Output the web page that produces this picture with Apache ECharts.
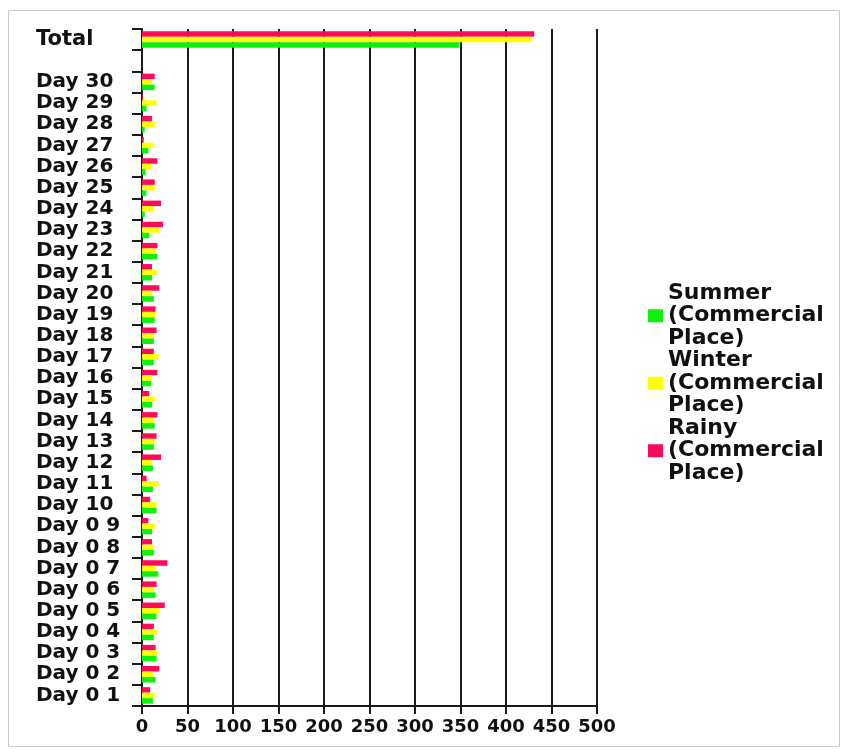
<!DOCTYPE html>
<html>
<head>
<meta charset="utf-8">
<title>Commercial Place by Season</title>
<script src="https://cdn.jsdelivr.net/npm/echarts@6/dist/echarts.min.js"></script>
<style>
  html, body { margin: 0; padding: 0; background: #fff; }
  #chart { width: 847px; height: 753px; }
</style>
</head>
<body>
<div id="chart"></div>
<script>
// Day labels, bottom to top
const dayLabels = [
  'Day 0 1', 'Day 0 2', 'Day 0 3', 'Day 0 4', 'Day 0 5', 'Day 0 6', 'Day 0 7', 'Day 0 8', 'Day 0 9',
  'Day 10', 'Day 11', 'Day 12', 'Day 13', 'Day 14', 'Day 15', 'Day 16', 'Day 17', 'Day 18', 'Day 19',
  'Day 20', 'Day 21', 'Day 22', 'Day 23', 'Day 24', 'Day 25', 'Day 26', 'Day 27', 'Day 28', 'Day 29', 'Day 30'
];
const totalLabel = 'Total';

const seriesNames = ['Summer (Commercial Place)', 'Winter (Commercial Place)', 'Rainy (Commercial Place)'];
const seriesColors = ['#0ef00e', '#ffff00', '#ff0a5a'];

// Daily values, Day 0 1 .. Day 30
const summer = [12, 15, 16, 13, 16, 15, 18, 13, 11, 16, 12, 12, 13, 14, 11, 10, 13, 13, 14, 13, 11, 17, 8, 3, 5, 4, 7, 3, 5, 14];
const winter = [14, 12, 17, 16, 19, 13, 15, 13, 14, 16, 18, 11, 14, 13, 14, 11, 18, 13, 15, 11, 16, 15, 19, 13, 14, 10, 12, 14, 16, 11];
const rainy  = [9, 19, 15, 13, 25, 16, 28, 11, 7, 9, 5, 21, 16, 17, 8, 17, 13, 16, 15, 19, 11, 17, 23, 21, 14, 17, 2, 11, 1, 14];

// Season totals
const totalSummer = 349;
const totalWinter = 428;
const totalRainy = 431;

const xTicks = { min: 0, max: 500, interval: 50 };

// Category axis: days, an empty spacer row, then the total row
const categories = dayLabels.concat(['', totalLabel]);
const seriesValues = [
  summer.concat([null, totalSummer]),
  winter.concat([null, totalWinter]),
  rainy.concat([null, totalRainy])
];

const FONT = 'DejaVu Sans';
const chart = echarts.init(document.getElementById('chart'));

// Horizontal bars stack top-down in series order, so add Rainy first
// to keep Summer at the bottom of each row.
const barSeries = [2, 1, 0].map(function (i) {
  return {
    name: seriesNames[i],
    type: 'bar',
    data: seriesValues[i],
    barWidth: 5.5,
    barGap: '0%',
    itemStyle: { color: seriesColors[i] },
    emphasis: { disabled: true }
  };
});

chart.setOption({
  backgroundColor: '#ffffff',
  animation: false,
  graphic: [{
    type: 'rect',
    shape: { x: 8.5, y: 10.5, width: 831, height: 736 },
    style: { fill: 'none', stroke: '#c8c8c8', lineWidth: 1 },
    silent: true,
    z: -1
  }],
  grid: { left: 142, right: 250, top: 29, bottom: 47, containLabel: false },
  legend: {
    orient: 'vertical',
    left: 643,
    top: 277,
    itemGap: 0,
    itemWidth: 15,
    itemHeight: 13,
    icon: 'rect',
    selectedMode: false,
    data: seriesNames,
    formatter: function (name) { return name.split(' ').join('\n'); },
    textStyle: {
      fontFamily: FONT,
      fontWeight: 'bold',
      fontSize: 22,
      lineHeight: 22.5,
      color: '#111'
    }
  },
  xAxis: {
    type: 'value',
    min: xTicks.min,
    max: xTicks.max,
    interval: xTicks.interval,
    axisLine: { show: true, lineStyle: { color: '#1a1a1a', width: 2 } },
    axisTick: { show: true, length: 8, lineStyle: { color: '#1a1a1a', width: 2 } },
    splitLine: { show: true, lineStyle: { color: '#1a1a1a', width: 2 } },
    axisLabel: {
      margin: 12,
      fontFamily: FONT,
      fontWeight: 'bold',
      fontSize: 18,
      color: '#111'
    }
  },
  yAxis: {
    type: 'category',
    data: categories,
    axisLine: { show: true, lineStyle: { color: '#1a1a1a', width: 2 } },
    axisTick: { show: true, length: 10, alignWithLabel: false, lineStyle: { color: '#1a1a1a', width: 2 } },
    splitLine: { show: false },
    axisLabel: {
      interval: 0,
      align: 'left',
      margin: 106,
      fontFamily: FONT,
      fontWeight: 'bold',
      fontSize: 20,
      color: '#111',
      formatter: function (v) { return v === totalLabel ? '{t|' + v + '}' : v; },
      rich: {
        t: { fontFamily: FONT, fontWeight: 'bold', fontSize: 21, color: '#111' }
      }
    }
  },
  series: barSeries
});
</script>
</body>
</html>
